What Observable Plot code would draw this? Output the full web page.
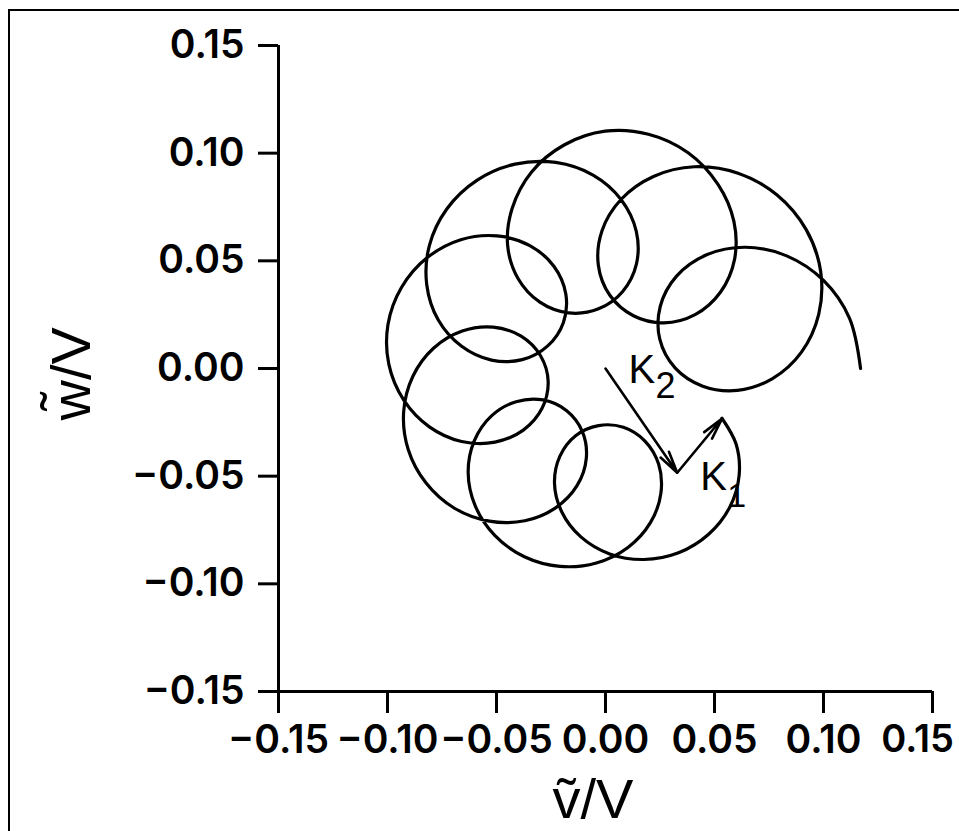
<!DOCTYPE html>
<html><head><meta charset="utf-8">
<script src="https://cdn.jsdelivr.net/npm/d3@7"></script>
<script src="https://cdn.jsdelivr.net/npm/@observablehq/plot@0.6"></script>
<style>
html,body{margin:0;padding:0;background:#fff;}
#wrap{position:relative;width:959px;height:831px;overflow:hidden;}
#frame{position:absolute;left:8px;top:9px;width:1000px;height:900px;border-left:2px solid #000;border-top:2px solid #000;}
#chart{position:absolute;left:0;top:0;}
svg text{font-variant-numeric:proportional-nums;}
</style></head>
<body><div id="wrap"><div id="frame"></div><div id="chart"></div></div>
<script>
// Axis ticks and labels
const xTicks=[-0.15,-0.10,-0.05,0.00,0.05,0.10,0.15];
const xTickLabels=["−0.15","−0.10","−0.05","0.00","0.05","0.10","0.15"];
const yTicks=[-0.15,-0.10,-0.05,0.00,0.05,0.10,0.15];
const yTickLabels=["−0.15","−0.10","−0.05","0.00","0.05","0.10","0.15"];
const xTitle="ṽ/V";
const yTitle="w\u0303/V";
// Arm vectors K2 (origin -> K2 tip) and K1 (K2 tip -> start of curve)
const armNames=["K2","K1"];
const armV1=[0,0.0329], armW1=[0,-0.0484];
const armV2=[0.0329,0.0535], armW2=[-0.0484,-0.0232];
// Epicyclic trajectory (v/V, w/V), in path order
const curveV=[0.0534,0.0599,0.0613,0.0570,0.0473,0.0335,0.0176,
0.0019,-0.0113,-0.0201,-0.0234,-0.0209,-0.0137,-0.0032,
0.0082,0.0181,0.0244,0.0254,0.0206,0.0103,-0.0042,
-0.0208,-0.0372,-0.0508,-0.0598,-0.0630,-0.0602,-0.0523,
-0.0410,-0.0286,-0.0178,-0.0106,-0.0088,-0.0130,-0.0229,
-0.0370,-0.0533,-0.0693,-0.0823,-0.0905,-0.0926,-0.0884,
-0.0789,-0.0657,-0.0515,-0.0387,-0.0298,-0.0263,-0.0291,
-0.0377,-0.0507,-0.0660,-0.0808,-0.0926,-0.0994,-0.0998,
-0.0936,-0.0819,-0.0664,-0.0498,-0.0347,-0.0236,-0.0182,
-0.0193,-0.0265,-0.0382,-0.0523,-0.0660,-0.0767,-0.0820,
-0.0808,-0.0728,-0.0590,-0.0415,-0.0228,-0.0057,0.0072,
0.0141,0.0142,0.0079,-0.0032,-0.0168,-0.0301,-0.0402,
-0.0449,-0.0428,-0.0339,-0.0190,-0.0002,0.0197,0.0379,
0.0516,0.0589,0.0592,0.0527,0.0411,0.0268,0.0128,
0.0020,-0.0033,-0.0016,0.0072,0.0220,0.0408,0.0608,
0.0787,0.0920,0.0987,0.0978,0.0899,0.0766,0.0605,
0.0446,0.0319,0.0249,0.0251,0.0326,0.0464,0.0642,
0.0831,0.1000,0.1119,0.1170];
const curveW=[-0.0231,-0.0351,-0.0496,-0.0644,-0.0770,-0.0856,-0.0887,
-0.0861,-0.0782,-0.0665,-0.0533,-0.0407,-0.0312,-0.0265,
-0.0273,-0.0337,-0.0445,-0.0580,-0.0716,-0.0831,-0.0903,
-0.0919,-0.0874,-0.0775,-0.0637,-0.0483,-0.0336,-0.0220,
-0.0154,-0.0146,-0.0196,-0.0293,-0.0416,-0.0543,-0.0647,
-0.0707,-0.0709,-0.0649,-0.0532,-0.0376,-0.0202,-0.0037,
0.0094,0.0174,0.0192,0.0150,0.0059,-0.0061,-0.0185,
-0.0286,-0.0342,-0.0339,-0.0271,-0.0146,0.0020,0.0203,
0.0376,0.0514,0.0598,0.0616,0.0571,0.0474,0.0346,
0.0214,0.0105,0.0041,0.0039,0.0103,0.0225,0.0389,
0.0571,0.0741,0.0874,0.0949,0.0957,0.0898,0.0784,
0.0638,0.0486,0.0358,0.0277,0.0258,0.0308,0.0419,
0.0573,0.0744,0.0913,0.1038,0.1102,0.1088,0.1002,
0.0855,0.0683,0.0507,0.0354,0.0250,0.0212,0.0245,
0.0340,0.0481,0.0640,0.0786,0.0892,0.0937,0.0907,
0.0806,0.0646,0.0451,0.0251,0.0076,-0.0047,-0.0102,
-0.0082,0.0003,0.0136,0.0288,0.0429,0.0528,0.0563,
0.0523,0.0409,0.0234,0.0000];

const pts=curveV.map((v,i)=>({v,w:curveW[i]}));
const arms=armNames.map((n,i)=>({n,x1:armV1[i],y1:armW1[i],x2:armV2[i],y2:armW2[i]}));
const xm=new Map(xTicks.map((t,i)=>[t,xTickLabels[i]]));
const ym=new Map(yTicks.map((t,i)=>[t,yTickLabels[i]]));
const lastX=xTicks[xTicks.length-1];
const tickFont="Inter, 'Liberation Sans', sans-serif";
const labelFont="'Liberation Sans', Arial, sans-serif";
const kFont="'Liberation Sans Narrow','Liberation Sans',sans-serif";
const chart=Plot.plot({
  width:959,height:831,marginLeft:278,marginRight:27,marginTop:45,marginBottom:140,
  x:{domain:[-0.15,0.15]},y:{domain:[-0.15,0.15]},
  style:{fontFamily:tickFont,fontSize:"39px",color:"#000",background:"transparent"},
  marks:[
    Plot.ruleX([-0.15],{strokeWidth:3}),
    Plot.ruleY([-0.15],{strokeWidth:3}),
    Plot.axisX({ticks:xTicks,tickFormat:d=>d===lastX?"":xm.get(d),tickSize:22,tickPadding:12,strokeWidth:3,fontSize:39,fontWeight:600,label:null}),
    Plot.axisX({ticks:[lastX],tickFormat:d=>xm.get(d),tickSize:0,tickPadding:34,dx:-15,fontSize:38,fontWeight:600,label:null}),
    Plot.axisY({ticks:yTicks,tickFormat:d=>ym.get(d),tickSize:20,tickPadding:14,strokeWidth:3,fontSize:39,fontWeight:600,label:null}),
    Plot.line(pts,{x:"v",y:"w",strokeWidth:3.2,curve:"catmull-rom"}),
    Plot.arrow(arms,{x1:"x1",y1:"y1",x2:"x2",y2:"y2",strokeWidth:2.6,headLength:13,headAngle:26}),
    Plot.text([arms[0]],{x:"x1",y:"y1",text:()=>"K",dx:23,dy:14,textAnchor:"start",lineAnchor:"bottom",fontSize:40,fontFamily:kFont}),
    Plot.text([arms[0]],{x:"x1",y:"y1",text:()=>"2",dx:50,dy:29,textAnchor:"start",lineAnchor:"bottom",fontSize:36,fontFamily:labelFont}),
    Plot.text([arms[1]],{x:"x1",y:"y1",text:()=>"K",dx:23,dy:17,textAnchor:"start",lineAnchor:"bottom",fontSize:40,fontFamily:kFont}),
    Plot.text([arms[1]],{x:"x1",y:"y1",text:()=>"1",dx:50,dy:34,textAnchor:"start",lineAnchor:"bottom",fontSize:34,fontFamily:labelFont}),
    Plot.text([xTitle],{frameAnchor:"bottom",dx:-53,dy:126,textAnchor:"start",lineAnchor:"bottom",fontSize:56,letterSpacing:5,fontFamily:labelFont}),
    Plot.text([yTitle],{frameAnchor:"left",dx:-189,dy:52,rotate:-90,textAnchor:"start",lineAnchor:"bottom",fontSize:56,letterSpacing:4,fontFamily:labelFont})
  ]
});
document.getElementById("chart").appendChild(chart);
</script></body></html>
